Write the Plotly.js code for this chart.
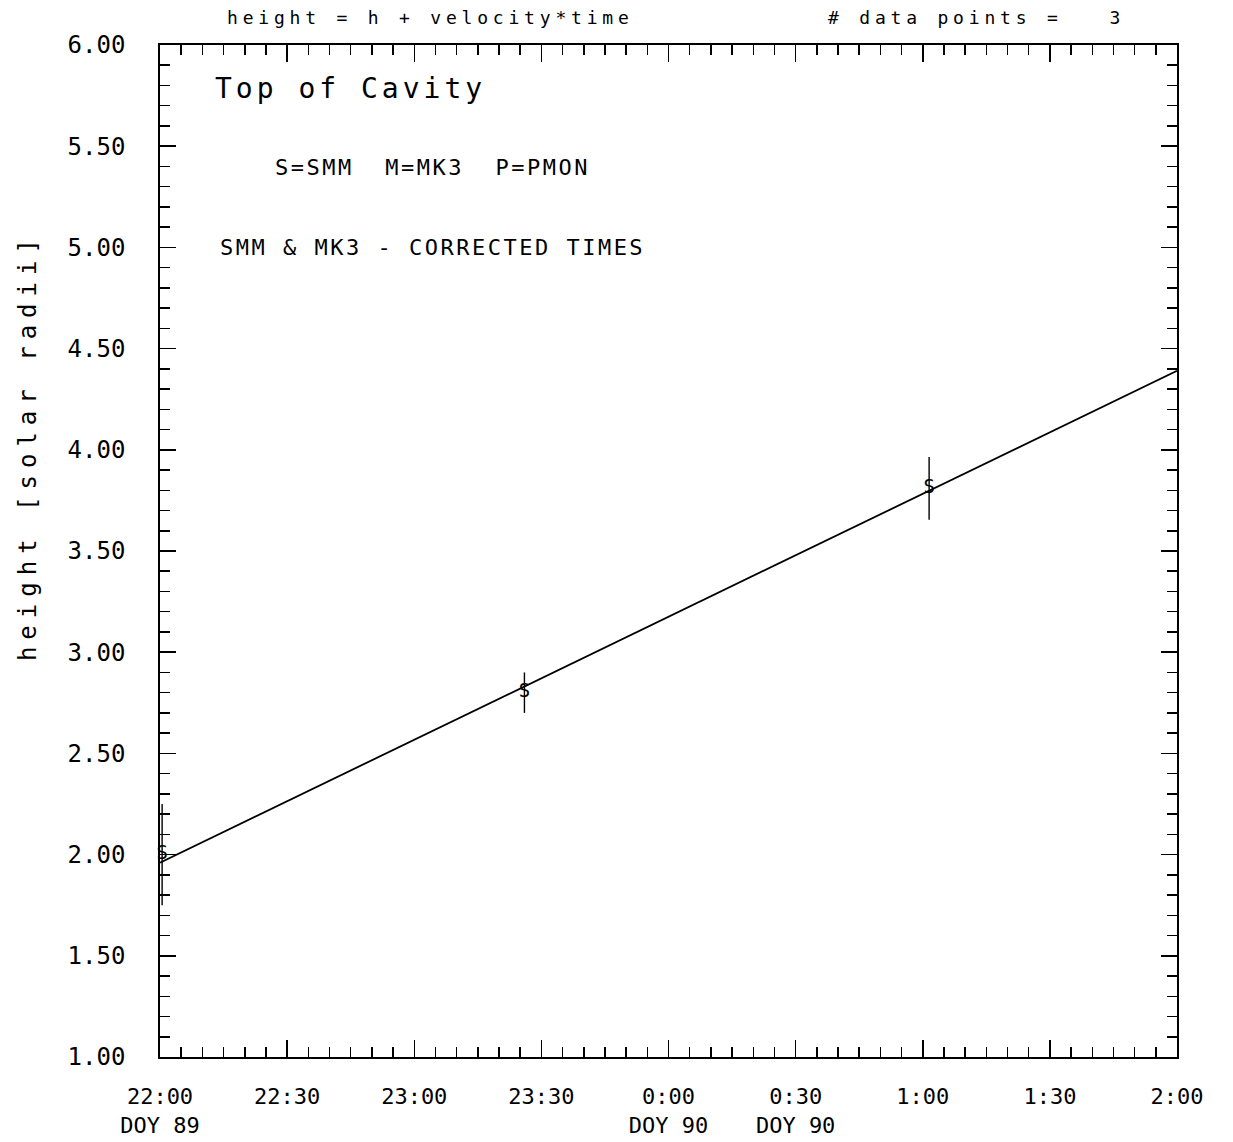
<!DOCTYPE html>
<html>
<head>
<meta charset="utf-8">
<script src="https://cdn.plot.ly/plotly-3.0.1.min.js"></script>
<style>
html,body{margin:0;padding:0;background:#fff;}
#chart{width:1233px;height:1142px;}
</style>
</head>
<body>
<div id="chart"></div>
<script>
// ---- data ----
const obsTimes = ["22:00:30", "23:26:00", "1:01:30"];
const obsHeights = [2.00, 2.80, 3.81];
const obsErrors = [0.25, 0.10, 0.155];
const obsSymbols = ["S", "S", "S"];

const fitTimes = ["22:00:00", "2:00:00"];
const fitHeights = [1.96, 4.39];

const tickTimes = ["22:00", "22:30", "23:00", "23:30", "0:00", "0:30", "1:00", "1:30", "2:00"];
const tickDOY = ["DOY 89", "", "", "", "DOY 90", "DOY 90", "", "", ""];

const yTickVals = [1.0, 1.5, 2.0, 2.5, 3.0, 3.5, 4.0, 4.5, 5.0, 5.5, 6.0];

const plotTitle = "height = h + velocity*time";
const pointsLabel = "# data points =   3";
const panelTitle = "Top of Cavity";
const legendText = "S=SMM  M=MK3  P=PMON";
const noteText = "SMM & MK3 - CORRECTED TIMES";
const yTitle = "height [solar radii]";

// minutes since 22:00 (day 89)
function toMin(t) {
  const p = t.split(":").map(Number);
  let m = p[0] * 60 + p[1] + (p[2] || 0) / 60;
  if (p[0] < 22) m += 24 * 60;
  return m - 22 * 60;
}

const FONT = "DejaVu Sans Mono";

const traces = [
  {
    x: fitTimes.map(toMin), y: fitHeights, mode: "lines",
    line: {color: "#000", width: 1.8}, hoverinfo: "skip", showlegend: false
  },
  {
    x: obsTimes.map(toMin), y: obsHeights, mode: "text",
    text: obsSymbols, textposition: "middle center",
    textfont: {family: FONT, size: 19, color: "#000"},
    error_y: {type: "data", array: obsErrors, visible: true, color: "#000", thickness: 1.4, width: 0},
    showlegend: false, cliponaxis: false
  }
];

const tickText = tickTimes.map((t, i) => tickDOY[i] ? t + "<br>" + tickDOY[i] : t);

const layout = {
  width: 1233, height: 1142,
  margin: {l: 160, r: 56, t: 45, b: 85},
  paper_bgcolor: "#fff", plot_bgcolor: "#fff",
  showlegend: false,
  font: {family: FONT, color: "#000", size: 22},
  xaxis: {
    range: [0, 240], tickmode: "array",
    tickvals: tickTimes.map(toMin), ticktext: tickText,
    ticks: "inside", ticklen: 17, tickwidth: 1.5, tickcolor: "#000",
    minor: {dtick: 5, tick0: 0, ticks: "inside", ticklen: 10, tickwidth: 1.5, tickcolor: "#000"},
    showline: true, linecolor: "#000", linewidth: 1.8, mirror: "ticks",
    showgrid: false, zeroline: false,
    tickfont: {family: FONT, size: 22, color: "#000"},
    ticklabelstandoff: 19
  },
  yaxis: {
    range: [1, 6], tickmode: "array",
    tickvals: yTickVals, ticktext: yTickVals.map(v => v.toFixed(2)),
    ticks: "inside", ticklen: 16, tickwidth: 1.5, tickcolor: "#000",
    minor: {dtick: 0.1, tick0: 1, ticks: "inside", ticklen: 10, tickwidth: 1.5, tickcolor: "#000"},
    showline: true, linecolor: "#000", linewidth: 1.8, mirror: "ticks",
    showgrid: false, zeroline: false,
    tickfont: {family: FONT, size: 24, color: "#000"},
    ticklabelstandoff: 28
  },
  annotations: [
    {text: plotTitle, xref: "paper", yref: "paper", x: 0.064, y: 1.027, xanchor: "left", yanchor: "middle",
     showarrow: false, font: {family: FONT, size: 18, color: "#000"}},
    {text: pointsLabel, xref: "paper", yref: "paper", x: 0.655, y: 1.027, xanchor: "left", yanchor: "middle",
     showarrow: false, font: {family: FONT, size: 18, color: "#000"}},
    {text: panelTitle, xref: "paper", yref: "paper", x: 0.052, y: 0.957, xanchor: "left", yanchor: "middle",
     showarrow: false, font: {family: FONT, size: 28, color: "#000"}},
    {text: legendText, xref: "paper", yref: "paper", x: 0.111, y: 0.879, xanchor: "left", yanchor: "middle",
     showarrow: false, font: {family: FONT, size: 22, color: "#000"}},
    {text: noteText, xref: "paper", yref: "paper", x: 0.057, y: 0.800, xanchor: "left", yanchor: "middle",
     showarrow: false, font: {family: FONT, size: 22, color: "#000"}},
    {text: yTitle, xref: "paper", yref: "paper", x: -0.13, y: 0.600, xanchor: "center", yanchor: "middle",
     textangle: -90, showarrow: false, font: {family: FONT, size: 24, color: "#000"}}
  ]
};

const spacing = [4.8, 4.8, 4, 2.5, 2.5, 7];
const leftAnchored = [true, true, true, true, true, false];

Plotly.newPlot("chart", traces, layout, {staticPlot: true, displayModeBar: false}).then(function () {
  document.querySelectorAll("g.annotation").forEach(function (g) {
    const i = Number(g.getAttribute("data-index"));
    const t = g.querySelector("text");
    if (!t || !spacing[i]) return;
    t.style.letterSpacing = spacing[i] + "px";
    const n = (t.textContent || "").length;
    const dx = leftAnchored[i] ? n * spacing[i] / 2 : spacing[i] / 2;
    const prev = t.getAttribute("transform") || "";
    t.setAttribute("transform", "translate(" + dx + ",0) " + prev);
  });
});
</script>
</body>
</html>
